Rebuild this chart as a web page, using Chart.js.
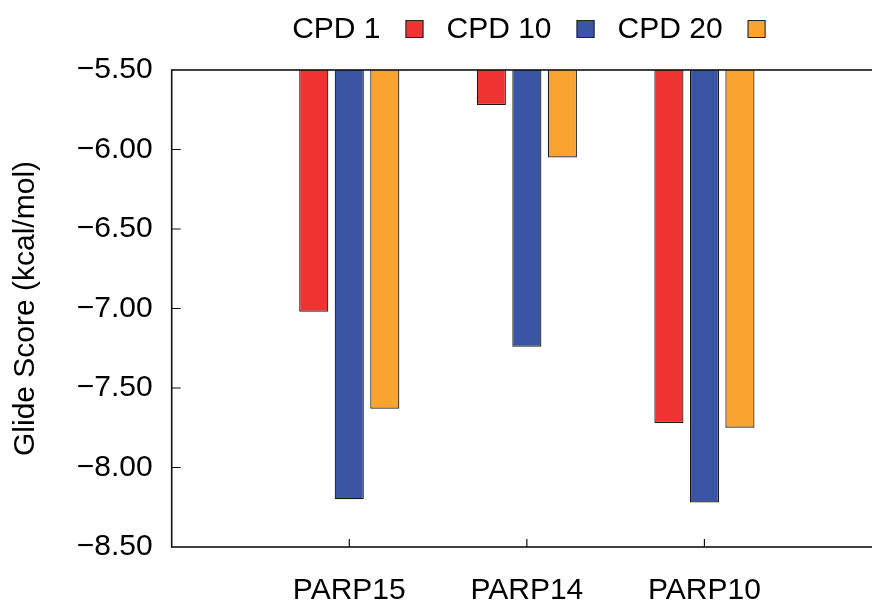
<!DOCTYPE html>
<html>
<head>
<meta charset="utf-8">
<script src="https://cdn.jsdelivr.net/npm/chart.js@4.4.1/dist/chart.umd.min.js"></script>
<style>
  html, body { margin: 0; padding: 0; background: #fff; overflow: hidden; }
  canvas { display: block; }
</style>
</head>
<body>
<canvas id="glideChart" width="884" height="606"></canvas>
<script>
// data
var categories = ['PARP15', 'PARP14', 'PARP10'];
var seriesNames = ['CPD 1', 'CPD 10', 'CPD 20'];
var cpd1 = [-7.02, -5.72, -7.72];
var cpd10 = [-8.20, -7.24, -8.22];
var cpd20 = [-7.63, -6.05, -7.75];
var yTicks = [-8.5, -8.0, -7.5, -7.0, -6.5, -6.0, -5.5];

var colors = ['#ee3330', '#3a55a3', '#f9a331'];
var FONT = "'Liberation Sans', Arial, sans-serif";

// empty slot on each side so the groups sit at 1, 2, 3 of a 0..4 axis
var labels = [''].concat(categories).concat(['']);
function pad(arr) { return [null].concat(arr).concat([null]); }

var seriesData = [cpd1, cpd10, cpd20];
var datasets = seriesData.map(function (vals, i) {
  return {
    label: seriesNames[i],
    data: pad(vals),
    backgroundColor: colors[i],
    borderColor: '#1a1a1a',
    borderWidth: 1.2,
    borderSkipped: false,
    categoryPercentage: 0.6,
    barPercentage: 0.82
  };
});

// frame + inward ticks, gnuplot style
var framePlugin = {
  id: 'frame',
  afterDatasetsDraw: function (chart) {
    var ctx = chart.ctx, a = chart.chartArea;
    var ys = chart.scales.y, xs = chart.scales.x;
    ctx.save();
    ctx.strokeStyle = '#111';
    ctx.lineWidth = 1.2;
    yTicks.forEach(function (v) {
      if (v === ys.min || v === ys.max) return;
      var py = ys.getPixelForValue(v);
      ctx.beginPath();
      ctx.moveTo(a.left, py); ctx.lineTo(a.left + 9, py);
      ctx.moveTo(a.right, py); ctx.lineTo(a.right - 9, py);
      ctx.stroke();
    });
    for (var i = 1; i <= categories.length; i++) {
      var px = xs.getPixelForValue(i);
      ctx.beginPath();
      ctx.moveTo(px, a.bottom); ctx.lineTo(px, a.bottom - 8);
      ctx.stroke();
    }
    ctx.lineWidth = 1.6;
    ctx.strokeRect(a.left, a.top, a.right - a.left, a.bottom - a.top);
    ctx.restore();
  }
};

// legend with the text before the swatch
var legendPlugin = {
  id: 'textFirstLegend',
  afterDraw: function (chart) {
    var ctx = chart.ctx, a = chart.chartArea;
    ctx.save();
    ctx.font = '30px ' + FONT;
    ctx.textBaseline = 'alphabetic';
    ctx.textAlign = 'left';
    var gapText = 25, box = 18, gapItem = 23;
    var items = chart.data.datasets;
    var total = 0;
    items.forEach(function (d, i) {
      total += ctx.measureText(d.label).width + gapText + box;
      if (i < items.length - 1) total += gapItem;
    });
    var x = (a.left + a.right) / 2 + 2 - total / 2;
    items.forEach(function (d) {
      ctx.fillStyle = '#000';
      ctx.fillText(d.label, x, 38);
      x += ctx.measureText(d.label).width + gapText;
      ctx.fillStyle = d.backgroundColor;
      ctx.fillRect(x, 20, box, 18);
      ctx.strokeStyle = '#222';
      ctx.lineWidth = 1;
      ctx.strokeRect(x + 0.5, 20.5, box - 1, 17);
      x += box + gapItem;
    });
    ctx.restore();
  }
};

var chart = new Chart(document.getElementById('glideChart'), {
  type: 'bar',
  data: { labels: labels, datasets: datasets },
  plugins: [framePlugin, legendPlugin],
  options: {
    responsive: false,
    devicePixelRatio: 1,
    animation: false,
    layout: { padding: { top: 70, right: 2, bottom: 0, left: 0 } },
    plugins: { legend: { display: false }, tooltip: { enabled: false } },
    scales: {
      x: {
        offset: false,
        afterFit: function (scale) {
          scale.height = 59;
          // end labels are empty, no need for side padding
          scale.paddingLeft = 0;
          scale.paddingRight = 0;
        },
        grid: { display: false, drawTicks: false },
        border: { display: false },
        ticks: { color: '#000', font: { family: FONT, size: 30 }, padding: 26, maxRotation: 0, autoSkip: false }
      },
      y: {
        min: -8.5,
        max: -5.5,
        afterBuildTicks: function (scale) {
          scale.ticks = yTicks.map(function (v) { return { value: v }; });
        },
        afterFit: function (scale) { scale.width = 171.7; },
        grid: { display: false, drawTicks: false },
        border: { display: false },
        ticks: {
          color: '#000',
          font: { family: FONT, size: 30 },
          padding: 19,
          callback: function (v) { return v.toFixed(2).replace('-', '\u2212'); }
        },
        title: {
          display: true,
          text: 'Glide Score (kcal/mol)',
          color: '#000',
          font: { family: FONT, size: 30 },
          padding: { top: 8, bottom: 0 }
        }
      }
    }
  }
});
</script>
</body>
</html>
